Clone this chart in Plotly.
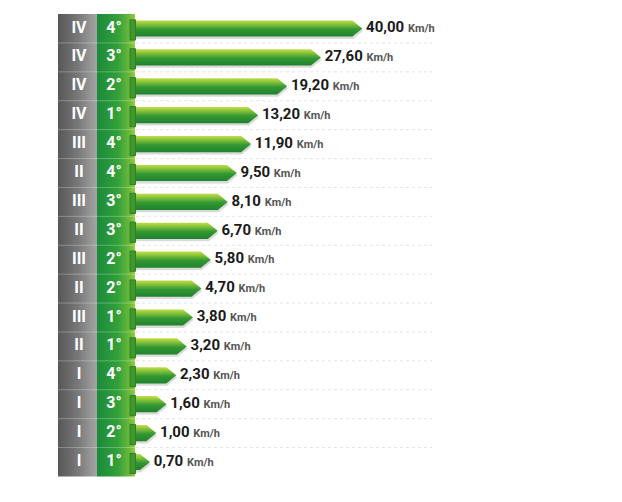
import numpy as np
import plotly.graph_objects as go

# ---------------- data ----------------
gear_range = ["IV", "IV", "IV", "IV", "III", "II", "III", "II",
              "III", "II", "III", "II", "I", "I", "I", "I"]
gear = ["4°", "3°", "2°", "1°", "4°", "4°", "3°", "3°",
        "2°", "2°", "1°", "1°", "4°", "3°", "2°", "1°"]
speed = [40.00, 27.60, 19.20, 13.20, 11.90, 9.50, 8.10, 6.70,
         5.80, 4.70, 3.80, 3.20, 2.30, 1.60, 1.00, 0.70]
unit = "Km/h"

# ---------------- styling / layout constants ----------------
W, H = 622, 502
OFF = 8                                # page body margin
FONT = "Roboto, Liberation Sans, sans-serif"
# sqrt speed scale: screen pixel = PX0 + PXS * sqrt(speed)
PX0, PXS = 117.6, 38.7
x_range = [(OFF - PX0) / PXS, (W + OFF - PX0) / PXS]
bar_base = (135 - PX0) / PXS          # bars start at the right edge of the gear column
head_len = 10 / PXS                   # arrow head length in axis units
# rows
ROW0, ROWH = 28.5, 28.9
y_range = [(H + OFF - ROW0) / ROWH, (OFF - ROW0) / ROWH]
half = 0.28

n = len(speed)
rows = np.arange(n)
s = np.sqrt(np.array(speed))

fig = go.Figure()

# ----- left columns (screen-pixel x axis x2) -----
def col(x0, x1, scale):
    fig.add_trace(go.Scatter(
        x=[x0, x1, x1, x0, x0], y=[-0.5, -0.5, n - 0.5, n - 0.5, -0.5],
        xaxis="x2", yaxis="y", mode="lines", line=dict(width=0),
        fill="toself",
        fillgradient=dict(type="horizontal", colorscale=scale, start=x0, stop=x1),
        hoverinfo="skip", showlegend=False))

col(58, 97.5, [[0, "#575757"], [0.5, "#787878"], [1, "#a6a6a6"]])
col(97, 135, [[0, "#1a8a3a"], [0.55, "#33a03a"], [0.85, "#6ab93b"], [1, "#9ccb3e"]])

# separators
for i in range(n - 1):
    y = i + 0.5
    fig.add_shape(type="line", xref="x2", yref="y", x0=58, x1=135, y0=y, y1=y,
                  line=dict(color="rgba(255,255,255,0.28)", width=1))
    fig.add_shape(type="line", xref="x2", yref="y", x0=136, x1=432, y0=y, y1=y,
                  line=dict(color="#e4e4e4", width=1, dash="dot"))

# ----- bars (sqrt-speed axis x) -----
for i, si in zip(rows, s):
    tip = si
    neck = max(tip - head_len, bar_base)
    px = [bar_base, neck, tip, neck, bar_base, bar_base]
    top, bot = i - half, i + half
    py = [top, top, i, bot, bot, top]
    # shadow
    fig.add_trace(go.Scatter(
        x=[p + 0.02 for p in px], y=[p + 0.08 for p in py], mode="lines",
        line=dict(width=0), fill="toself", fillcolor="rgba(0,0,0,0.15)",
        hoverinfo="skip", showlegend=False))
    fig.add_trace(go.Scatter(
        x=px, y=py, mode="lines", line=dict(width=0), fill="toself",
        fillgradient=dict(type="vertical",
                          colorscale=[[0, "#c2dd4a"], [0.2, "#8fc73b"],
                                      [0.55, "#339832"], [1, "#1f822d"]],
                          start=top, stop=bot),
        hoverinfo="skip", showlegend=False))
    # fold tab at bar start (pixel axis)
    fig.add_trace(go.Scatter(
        x=[130, 135.5, 135.5, 130, 130],
        y=[top - 0.02, top - 0.02, bot + 0.12, bot + 0.12, top - 0.02],
        xaxis="x2", mode="lines", line=dict(width=1, color="#2f7f25"),
        fill="toself", fillcolor="#3f982d", hoverinfo="skip", showlegend=False))

# ----- value labels -----
NB = "\u00a0"
labels = [NB + f"<b>{v:.2f}</b>".replace(".", ",") + NB +
          f"<span style='font-size:11px;color:#555555'><b>{unit}</b></span>"
          for v in speed]
fig.add_trace(go.Scatter(
    x=s, y=rows, mode="text", text=labels, textposition="middle right",
    textfont=dict(family=FONT, size=15, color="#1a1a1a"),
    hoverinfo="skip", showlegend=False))

# ----- column labels -----
fig.add_trace(go.Scatter(
    x=[79] * n, y=rows, xaxis="x2", mode="text",
    text=[f"<b>{g}</b>" for g in gear_range],
    textfont=dict(family=FONT, size=16, color="white"),
    hoverinfo="skip", showlegend=False))
fig.add_trace(go.Scatter(
    x=[114] * n, y=rows, xaxis="x2", mode="text",
    text=[f"<b>{g}</b>" for g in gear],
    textfont=dict(family=FONT, size=16, color="white"),
    hoverinfo="skip", showlegend=False))

fig.update_layout(
    width=W, height=H, margin=dict(l=0, r=0, t=0, b=0),
    paper_bgcolor="white", plot_bgcolor="white",
    xaxis=dict(range=x_range, visible=False, fixedrange=True),
    xaxis2=dict(range=[OFF, W + OFF], visible=False, overlaying="x", fixedrange=True),
    yaxis=dict(range=y_range, visible=False, fixedrange=True),
    showlegend=False, hovermode=False,
)

fig.write_html("out.html")
